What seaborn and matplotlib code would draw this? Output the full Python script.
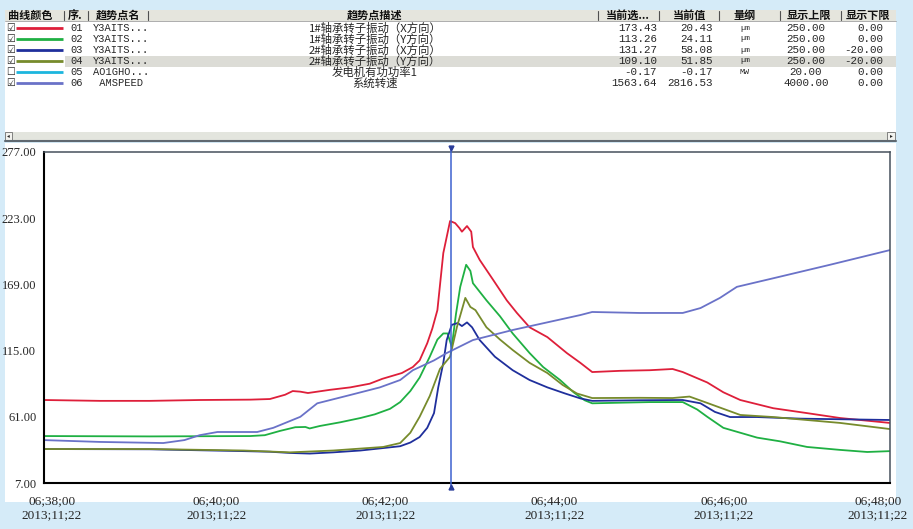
import matplotlib
matplotlib.use("Agg")
import pandas as pd
import matplotlib.pyplot as plt
import matplotlib.transforms as mtransforms
from matplotlib.patches import Rectangle
import seaborn as sns

START = pd.Timestamp("2013-11-22 06:38:00")
CURSOR_MIN = 4.81  # cursor position, minutes after 06:38:00

# trend curves: minutes after 06:38:00 / value on the 7..277 display scale
t_01 = [0.00, 0.66, 1.25, 1.84, 2.44, 2.67, 2.85, 2.94, 3.03, 3.12, 3.38, 3.62, 3.85, 4.00,
        4.23, 4.36, 4.44, 4.53, 4.59, 4.65, 4.72, 4.80, 4.86, 4.91, 4.94, 5.00, 5.05, 5.07,
        5.15, 5.31, 5.47, 5.59, 5.74, 5.95, 6.18, 6.34, 6.48, 6.81, 7.16, 7.43, 7.55, 7.84,
        8.03, 8.23, 8.62, 9.02, 9.41, 10.00]
v_01 = [74.7, 74.0, 74.0, 74.7, 75.0, 75.5, 79.0, 82.0, 81.5, 80.4, 83.0, 85.0, 88.0, 92.0,
        96.7, 101.6, 107.0, 121.0, 133.0, 148.0, 194.6, 220.7, 219.0, 215.0, 212.0, 216.6, 212.0, 199.5,
        189.0, 172.6, 156.0, 145.7, 134.0, 126.0, 113.0, 105.0, 97.5, 98.5, 99.0, 100.0, 97.5, 89.0,
        81.0, 74.7, 68.0, 64.0, 60.0, 56.0]

t_02 = [0.00, 1.25, 2.44, 2.61, 2.79, 2.97, 3.09, 3.14, 3.26, 3.50, 3.74, 3.91, 4.09, 4.21,
        4.33, 4.44, 4.56, 4.65, 4.72, 4.77, 4.82, 4.87, 4.92, 4.99, 5.04, 5.07, 5.15, 5.23,
        5.39, 5.54, 5.74, 5.90, 6.10, 6.26, 6.39, 6.48, 6.81, 7.16, 7.55, 7.72, 7.84, 8.03,
        8.23, 8.43, 8.70, 9.02, 9.41, 9.73, 10.00]
v_02 = [45.3, 45.0, 45.3, 46.0, 49.5, 52.5, 52.7, 51.5, 53.5, 56.5, 60.0, 63.0, 67.5, 73.0,
        82.0, 93.0, 110.0, 124.0, 129.0, 129.0, 118.0, 145.0, 167.0, 185.0, 180.0, 170.0, 163.0, 156.0,
        143.0, 129.0, 113.0, 101.6, 91.0, 81.0, 74.5, 72.0, 72.5, 73.0, 73.0, 67.0, 61.0, 52.0,
        48.0, 44.0, 41.0, 36.4, 34.0, 32.3, 33.0]

t_03 = [0.00, 1.25, 2.36, 2.67, 2.91, 3.14, 3.42, 3.74, 4.01, 4.21, 4.33, 4.44, 4.53, 4.61,
        4.66, 4.72, 4.76, 4.82, 4.89, 4.94, 5.00, 5.06, 5.15, 5.33, 5.54, 5.74, 5.95, 6.16,
        6.34, 6.48, 7.04, 7.55, 7.76, 7.93, 8.11, 8.43, 8.94, 9.41, 10.00]
v_03 = [34.7, 34.5, 33.0, 32.5, 31.5, 31.0, 32.0, 33.5, 35.5, 37.0, 40.0, 44.5, 52.0, 64.0,
        85.0, 105.0, 123.6, 136.0, 137.5, 135.0, 138.0, 134.0, 123.6, 110.0, 99.0, 91.0, 85.0, 80.0,
        76.0, 74.0, 74.5, 74.7, 72.0, 65.0, 60.8, 60.8, 59.5, 59.0, 58.4]

t_04 = [0.00, 1.25, 2.36, 2.91, 3.42, 4.01, 4.21, 4.33, 4.44, 4.56, 4.68, 4.80, 4.88, 4.98,
        5.04, 5.10, 5.23, 5.39, 5.54, 5.74, 5.95, 6.13, 6.30, 6.48, 7.04, 7.43, 7.63, 7.84,
        8.23, 8.62, 9.41, 10.00]
v_04 = [34.7, 34.7, 33.5, 32.0, 33.5, 36.4, 39.6, 48.0, 61.0, 78.0, 100.0, 110.0, 134.0, 158.0,
        150.6, 148.0, 134.0, 124.0, 115.5, 105.0, 96.7, 87.0, 80.0, 76.3, 76.5, 76.3, 77.5, 72.3,
        62.5, 60.8, 56.0, 51.0]

t_06 = [0.00, 0.66, 1.41, 1.66, 1.84, 2.05, 2.52, 2.71, 3.03, 3.23, 3.62, 3.97, 4.21, 4.36,
        4.61, 4.76, 5.07, 5.54, 6.34, 6.48, 7.04, 7.55, 7.76, 7.99, 8.19, 8.62, 9.29, 10.00]
v_06 = [42.0, 40.5, 39.6, 42.0, 46.0, 48.6, 48.6, 52.0, 61.0, 72.0, 78.8, 85.0, 91.0, 99.0,
        107.0, 113.0, 123.6, 131.8, 144.0, 146.5, 145.7, 145.7, 149.7, 158.0, 167.0, 174.0, 185.0, 197.0]

# trend table
codes = ["01", "02", "03", "04", "05", "06"]
tag_names = ["Y3AITS...", "Y3AITS...", "Y3AITS...", "Y3AITS...", "AO1GHO...", " AMSPEED"]
descs = ["1#轴承转子振动（X方向）", "1#轴承转子振动（Y方向）", "2#轴承转子振动（X方向）",
         "2#轴承转子振动（Y方向）", "发电机有功功率1", "系统转速"]
sel_vals = ["173.43", "113.26", "131.27", "109.10", "-0.17", "1563.64"]
cur_vals = ["20.43", "24.11", "58.08", "51.85", "-0.17", "2816.53"]
units = ["µm", "µm", "µm", "µm", "MW", ""]
upper = ["250.00", "250.00", "250.00", "250.00", "20.00", "4000.00"]
lower = ["0.00", "0.00", "-20.00", "-20.00", "0.00", "0.00"]
shown = [True, True, True, True, False, True]
colors = ["#de1f3a", "#1fb043", "#1f2f9c", "#778b2c", "#1cb6de", "#6a72c8"]
headers = ["曲线颜色", "序.", "趋势点名", "趋势点描述", "当前选...", "当前值", "量纲", "显示上限", "显示下限"]

series = [("01", t_01, v_01), ("02", t_02, v_02), ("03", t_03, v_03),
          ("04", t_04, v_04), ("06", t_06, v_06)]
frames = []
for code, t, v in series:
    frames.append(pd.DataFrame({"time": START + pd.to_timedelta(t, unit="min"),
                                "value": v, "curve": code}))
df = pd.concat(frames, ignore_index=True)
palette = {c: col for c, col in zip(codes, colors)}

sns.set_theme(style="white")
plt.rcParams["font.family"] = ["Noto Sans CJK SC", "DejaVu Sans"]
MONO = ["Liberation Mono", "Noto Sans CJK SC"]
SERIF = ["Liberation Serif", "DejaVu Serif"]

fig = plt.figure(figsize=(9.13, 5.29), dpi=100)
fig.patch.set_facecolor("#d5ebf8")

# background panels in pixel coordinates
bg = fig.add_axes([0, 0, 1, 1], zorder=0)
bg.set_xlim(0, 913)
bg.set_ylim(529, 0)
bg.axis("off")
bg.add_patch(Rectangle((5, 10), 891, 122, fc="white", ec="none"))
bg.add_patch(Rectangle((5, 10), 891, 11, fc="#e5e5dd", ec="none"))
bg.plot([5, 896], [21, 21], color="#a0a0a0", lw=0.6)
for sx in [64, 88, 148, 598, 659, 719, 780, 841]:
    bg.plot([sx, sx], [11, 20], color="#505050", lw=0.8)
head_x = [30, 68, 118, 375, 628, 690, 745, 809, 868]
for i, (hx, h) in enumerate(zip(head_x, headers)):
    bg.text(hx, 15.5, h, ha="left" if i == 1 else "center", va="center",
            fontsize=8, fontweight="bold", color="#111111")
bg.add_patch(Rectangle((65, 56), 831, 11, fc="#dcdcd6", ec="none"))
for i in range(len(codes)):
    y = 28 + 11 * i
    bg.text(11, y, "☑" if shown[i] else "☐", ha="center", va="center",
            fontsize=7, family="DejaVu Sans", color="#222222")
    bg.plot([16, 63], [y, y], color=colors[i], lw=2, solid_capstyle="butt")
    bg.text(70, y, codes[i], ha="left", va="center", fontsize=7.5, family=MONO)
    bg.text(93, y, tag_names[i], ha="left", va="center", fontsize=7.5, family=MONO)
    bg.text(375, y, descs[i], ha="center", va="center", fontsize=8.2)
    bg.text(657, y, sel_vals[i], ha="right", va="center", fontsize=7.8, family=MONO)
    bg.text(713, y, cur_vals[i], ha="right", va="center", fontsize=7.8, family=MONO)
    bg.text(745, y, units[i], ha="center", va="center", fontsize=6, family=MONO)
    bg.text(806, y, upper[i], ha="center", va="center", fontsize=7.8, family=MONO)
    bg.text(883, y, lower[i], ha="right", va="center", fontsize=7.8, family=MONO)

# scroll bar
bg.add_patch(Rectangle((5, 132), 891, 8, fc="#e3e5de", ec="none"))
bg.plot([5, 896], [140.5, 140.5], color="#5f6870", lw=1.5)
bg.add_patch(Rectangle((5, 132), 7, 8, fc="#f2f2ee", ec="#707070", lw=0.6))
bg.add_patch(Rectangle((887, 132), 8, 8, fc="#f2f2ee", ec="#707070", lw=0.6))
bg.text(8.5, 136, "◂", ha="center", va="center", fontsize=4, family="DejaVu Sans")
bg.text(891, 136, "▸", ha="center", va="center", fontsize=4, family="DejaVu Sans")

# chart panel
bg.add_patch(Rectangle((5, 143), 891, 359, fc="white", ec="none"))

ax = fig.add_axes([44 / 913, 1 - 483 / 529, 846 / 913, 331 / 529], zorder=2)
ax.set_facecolor("white")
sns.lineplot(data=df, x="time", y="value", hue="curve", hue_order=["01", "02", "03", "04", "06"],
             palette=palette, estimator=None, sort=False, linewidth=1.3, legend=False, ax=ax)

cursor = START + pd.Timedelta(minutes=CURSOR_MIN)
ax.plot([cursor, cursor], [-0.012, 1.012], transform=ax.get_xaxis_transform(),
        color="#3d62cf", lw=1.1, clip_on=False, zorder=5)
ax.plot([cursor], [1.012], transform=ax.get_xaxis_transform(), marker="v", ms=3.5,
        color="#2a3d9a", clip_on=False, zorder=6)
ax.plot([cursor], [-0.012], transform=ax.get_xaxis_transform(), marker="^", ms=3.5,
        color="#2a3d9a", clip_on=False, zorder=6)

ax.set_xlim(START, START + pd.Timedelta(minutes=10))
ax.set_ylim(7, 277)
yticks = [7, 61, 115, 169, 223, 277]
ax.set_yticks(yticks, labels=[f"{v:.2f}" for v in yticks])
xticks = [START + pd.Timedelta(minutes=m) for m in range(0, 11, 2)]
ax.set_xticks(xticks, labels=[x.strftime("%H;%M;%S\n%Y;%m;%d") for x in xticks])
ax.set_xlabel("")
ax.set_ylabel("")
ax.tick_params(axis="x", length=6, width=1.5, color="#34afe6", direction="out",
               pad=3, labelsize=9.5)
ax.tick_params(axis="y", length=4, width=1.5, color="black", direction="out",
               pad=1.5, labelsize=9)
for lbl in ax.get_xticklabels() + ax.get_yticklabels():
    lbl.set_family(SERIF)
# the first and last date labels sit inside the panel, the rest a bit right of the tick
shifts = [8, 3, 3, 3, 3, -12]
for lbl, dx in zip(ax.get_xticklabels(), shifts):
    lbl.set_linespacing(1.15)
    lbl.set_transform(lbl.get_transform() + mtransforms.ScaledTranslation(dx / 100, 0, fig.dpi_scale_trans))
for side in ["left", "bottom"]:
    ax.spines[side].set_color("black")
    ax.spines[side].set_linewidth(1.5)
for side in ["top", "right"]:
    ax.spines[side].set_color("#46515c")
    ax.spines[side].set_linewidth(1.1)

fig.savefig("out.png", dpi=100, facecolor=fig.get_facecolor())
